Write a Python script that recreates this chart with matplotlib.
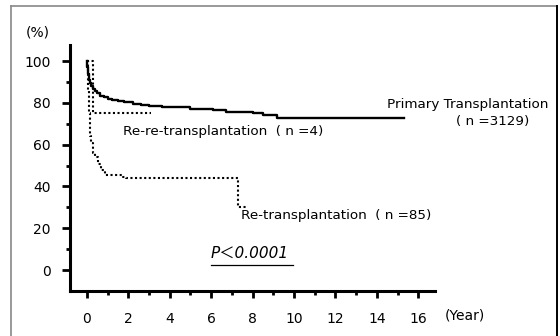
import matplotlib.pyplot as plt
from matplotlib.lines import Line2D

plt.rcParams['font.family'] = ['DejaVu Sans', 'Noto Sans CJK JP']

# Kaplan-Meier survival (%), step times in years
primary_t = [0, 0.02, 0.05, 0.1, 0.15, 0.2, 0.3, 0.4, 0.5, 0.65, 0.8, 1.0, 1.2, 1.5,
             1.8, 2.2, 2.6, 3.0, 3.6, 4.2, 5.0, 6.1, 6.7, 8.0, 8.5, 9.2, 15.3]
primary_s = [100, 97, 94, 91, 89.5, 88, 86.5, 85.5, 84.5, 83.5, 82.7, 82, 81.3, 80.7,
             80.2, 79.6, 79.2, 78.7, 78.2, 77.8, 77.3, 76.6, 75.8, 75.0, 74.1, 72.6, 72.6]

rere_t = [0, 0.3, 3.1]
rere_s = [100, 75, 75]

re_t = [0, 0.03, 0.07, 0.1, 0.15, 0.2, 0.3, 0.4, 0.55, 0.7, 0.87, 1.6, 1.75, 1.9, 7.3, 7.7]
re_s = [100, 92, 86, 75, 64, 60.6, 56, 54, 51, 48, 45.5, 45.5, 44.6, 44.3, 30.3, 30.3]

fig = plt.figure(figsize=(5.6, 3.36), dpi=100)
ax = fig.add_axes([70/560, 1 - 291/336, 365/560, 246/336])

ax.step(primary_t, primary_s, where='post', color='black', lw=1.7)
ax.step(rere_t, rere_s, where='post', color='black', lw=1.5, linestyle=(0, (1, 1.2)))
ax.step(re_t, re_s, where='post', color='black', lw=1.5, linestyle=(0, (1, 1.2)))

ax.set_xlim(-0.82, 16.81)
ax.set_ylim(-10, 107.7)
ax.set_xticks(range(0, 17, 2))
ax.set_xticks(range(1, 17, 2), minor=True)
ax.set_yticks(range(0, 101, 20))
ax.set_yticks(range(10, 101, 20), minor=True)
ax.tick_params(which='major', direction='out', length=5, width=2, labelsize=10, pad=10)
ax.tick_params(which='minor', direction='out', length=3, width=2)
ax.tick_params(axis='y', which='major', length=6, pad=8)
for side in ['top', 'right']:
    ax.spines[side].set_visible(False)
for side in ['left', 'bottom']:
    ax.spines[side].set_linewidth(2.2)

ax.text(-2.4, 113.5, '(%)', fontsize=10, ha='center', va='center', clip_on=False)
ax.text(18.26, -21.5, '(Year)', fontsize=10, ha='center', va='center', clip_on=False)

ax.text(14.5, 79.2, 'Primary Transplantation', fontsize=9.7, ha='left', va='center', clip_on=False)
ax.text(19.6, 71.3, '( n =3129)', fontsize=9.7, ha='center', va='center', clip_on=False)
ax.text(1.75, 66.5, 'Re-re-transplantation  ( n =4)', fontsize=9.7, ha='left', va='center')
ax.text(7.45, 26.0, 'Re-transplantation  ( n =85)', fontsize=9.7, ha='left', va='center')
ax.text(5.95, 8.0, 'P＜0.0001', fontsize=11, style='italic', ha='left', va='center')
ax.add_line(Line2D([5.97, 9.95], [2.4, 2.4], color='black', lw=0.9))

# outer frame
fig.add_artist(Line2D([11/560, 11/560], [0, 1 - 6/336], color='#888888', lw=1.2))
fig.add_artist(Line2D([11/560, 557/560], [1 - 6/336, 1 - 6/336], color='#888888', lw=1.2))
fig.add_artist(Line2D([557/560, 557/560], [0, 1 - 6/336], color='black', lw=1.4))

fig.savefig('out.png', dpi=100)
